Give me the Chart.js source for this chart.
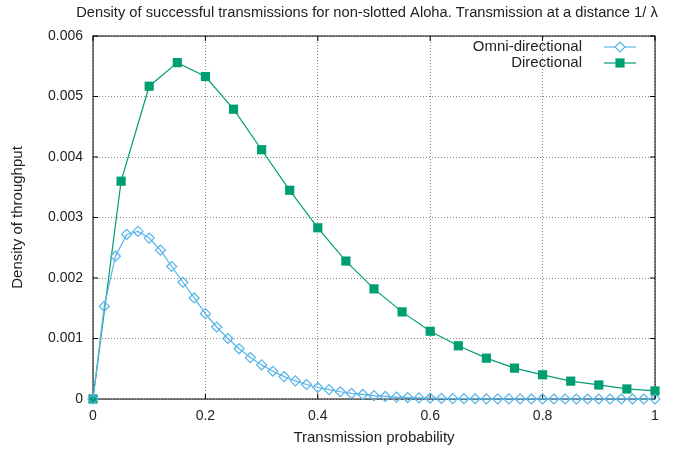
<!DOCTYPE html>
<html>
<head>
<meta charset="utf-8">
<script src="https://cdn.jsdelivr.net/npm/chart.js@4/dist/chart.umd.min.js"></script>
<style>
  html, body { margin: 0; padding: 0; background: #fff; }
  #wrap { width: 675px; height: 450px; }
</style>
</head>
<body>
<div id="wrap"><canvas id="alohaChart"></canvas></div>
<script>
const chartTitle = "Density of successful transmissions for non-slotted Aloha. Transmission at a distance 1/ \u03bb";

// Omni-directional, sampled every 0.02
const omniX = [0, 0.02, 0.04, 0.06, 0.08, 0.1, 0.12, 0.14, 0.16, 0.18,
  0.2, 0.22, 0.24, 0.26, 0.28, 0.3, 0.32, 0.34, 0.36, 0.38,
  0.4, 0.42, 0.44, 0.46, 0.48, 0.5, 0.52, 0.54, 0.56, 0.58,
  0.6, 0.62, 0.64, 0.66, 0.68, 0.7, 0.72, 0.74, 0.76, 0.78,
  0.8, 0.82, 0.84, 0.86, 0.88, 0.9, 0.92, 0.94, 0.96, 0.98, 1];
const omniY = [0, 0.00153, 0.00236, 0.00272, 0.00277, 0.00266, 0.00246, 0.00219, 0.00193, 0.00167,
  0.00141, 0.00119, 0.00100, 0.00083, 0.000685, 0.000564, 0.000459, 0.00037, 0.0003, 0.00024,
  0.00019, 0.000155, 0.00012, 0.000092, 0.000075, 0.000055, 0.000042, 0.000032, 0.000024, 0.000018,
  0.000013, 0.00001, 0.000007, 0.000005, 0.000004, 0.000003, 0.000002, 0.0000015, 0.000001, 0.0000008,
  0.0000006, 0.0000004, 0.0000003, 0.0000002, 0.0000002, 0.0000001, 0.0000001, 0.0000001, 0, 0, 0];

// Directional, sampled every 0.05
const dirX = [0, 0.05, 0.1, 0.15, 0.2, 0.25, 0.3, 0.35, 0.4, 0.45, 0.5,
  0.55, 0.6, 0.65, 0.7, 0.75, 0.8, 0.85, 0.9, 0.95, 1];
const dirY = [0, 0.0036, 0.00517, 0.00556, 0.00533, 0.00479, 0.00412, 0.00345, 0.00283, 0.00228, 0.00182,
  0.00144, 0.00112, 0.00088, 0.000675, 0.00051, 0.0004, 0.000295, 0.000232, 0.000166, 0.000133];

const xTickLabels = ["0", "0.2", "0.4", "0.6", "0.8", "1"];
const yTickLabels = ["0", "0.001", "0.002", "0.003", "0.004", "0.005", "0.006"];

const FONT = "'Liberation Sans', Helvetica, Arial, sans-serif";
const omniColor = "#56b4e9";
const dirColor = "#009e73";

const toPoints = (xs, ys) => xs.map((x, i) => ({ x: x, y: ys[i] }));

// gnuplot-like frame, inward ticks, title and legend
const gnuplotLook = {
  id: 'gnuplotLook',
  beforeDatasetsDraw(chart) {
    const { ctx, chartArea: a, scales } = chart;
    ctx.save();
    ctx.strokeStyle = '#000';
    ctx.lineWidth = 1;
    ctx.strokeRect(a.left, a.top, a.right - a.left, a.bottom - a.top);
    ctx.beginPath();
    scales.x.ticks.forEach((t) => {
      const px = scales.x.getPixelForValue(t.value);
      ctx.moveTo(px, a.bottom); ctx.lineTo(px, a.bottom - 5);
      ctx.moveTo(px, a.top); ctx.lineTo(px, a.top + 5);
    });
    scales.y.ticks.forEach((t) => {
      const py = scales.y.getPixelForValue(t.value);
      ctx.moveTo(a.left, py); ctx.lineTo(a.left + 5, py);
      ctx.moveTo(a.right, py); ctx.lineTo(a.right - 5, py);
    });
    ctx.stroke();
    ctx.restore();
  },
  afterDraw(chart) {
    const { ctx, chartArea: a } = chart;
    ctx.save();
    ctx.fillStyle = '#222';
    ctx.font = "14.7px " + FONT;
    ctx.textAlign = 'center';
    ctx.textBaseline = 'middle';
    ctx.fillText(chartTitle, (a.left + a.right) / 2 - 7, 13);

    // legend: right-aligned text, then a line sample with marker
    ctx.font = "15px " + FONT;
    const lx = a.right - 35;
    chart.data.datasets.forEach((ds, i) => {
      const y = a.top + 11 + i * 16;
      ctx.fillStyle = '#222';
      ctx.textAlign = 'right';
      ctx.fillText(ds.label, lx - 38, y);
      ctx.strokeStyle = ds.borderColor;
      ctx.lineWidth = ds.borderWidth;
      ctx.beginPath();
      ctx.moveTo(lx - 16, y); ctx.lineTo(lx + 16, y);
      ctx.stroke();
      ctx.fillStyle = ds.pointStyle === 'rectRot' ? '#fff' : ds.pointBackgroundColor;
      ctx.strokeStyle = ds.pointBorderColor;
      ctx.lineWidth = ds.pointBorderWidth;
      Chart.helpers.drawPoint(ctx, {
        pointStyle: ds.pointStyle,
        radius: ds.pointRadius,
        borderWidth: ds.pointBorderWidth
      }, lx, y);
    });
    ctx.restore();
  }
};

const ctx = document.getElementById('alohaChart').getContext('2d');
new Chart(ctx, {
  type: 'line',
  data: {
    datasets: [
      {
        label: "Omni-directional",
        data: toPoints(omniX, omniY),
        borderColor: omniColor,
        backgroundColor: omniColor,
        pointBackgroundColor: 'rgba(255,255,255,0)',
        pointBorderColor: omniColor,
        pointStyle: 'rectRot',
        pointRadius: 5,
        pointBorderWidth: 1.2,
        borderWidth: 1.2,
        tension: 0,
        clip: false
      },
      {
        label: "Directional",
        data: toPoints(dirX, dirY),
        borderColor: dirColor,
        backgroundColor: dirColor,
        pointBackgroundColor: dirColor,
        pointBorderColor: dirColor,
        pointStyle: 'rect',
        pointRadius: 6.5,
        pointBorderWidth: 0,
        borderWidth: 1.2,
        tension: 0,
        clip: false
      }
    ]
  },
  options: {
    responsive: true,
    maintainAspectRatio: false,
    animation: false,
    layout: { padding: { top: 36, right: 20, left: 0, bottom: 0 } },
    plugins: {
      legend: { display: false },
      title: { display: false },
      tooltip: { enabled: false }
    },
    scales: {
      x: {
        type: 'linear',
        min: 0,
        max: 1,
        ticks: {
          stepSize: 0.2,
          padding: 9,
          color: '#222',
          font: { family: FONT, size: 14 },
          maxRotation: 0,
          callback: (v, i) => xTickLabels[i]
        },
        grid: { color: '#888', lineWidth: 1, drawTicks: false },
        border: { display: false, dash: [1, 2] },
        title: {
          display: true,
          text: "Transmission probability",
          color: '#222',
          font: { family: FONT, size: 15 },
          padding: { top: 4, bottom: 3 }
        },
        afterFit: (s) => { s.height = 51; }
      },
      y: {
        min: 0,
        max: 0.006,
        ticks: {
          stepSize: 0.001,
          padding: 10,
          color: '#222',
          font: { family: FONT, size: 14 },
          callback: (v, i) => yTickLabels[i]
        },
        grid: { color: '#888', lineWidth: 1, drawTicks: false },
        border: { display: false, dash: [1, 2] },
        title: {
          display: true,
          text: "Density of throughput",
          color: '#222',
          font: { family: FONT, size: 15 },
          padding: { top: 9, bottom: 4 }
        },
        afterFit: (s) => { s.width = 93; }
      }
    }
  },
  plugins: [gnuplotLook]
});
</script>
</body>
</html>
